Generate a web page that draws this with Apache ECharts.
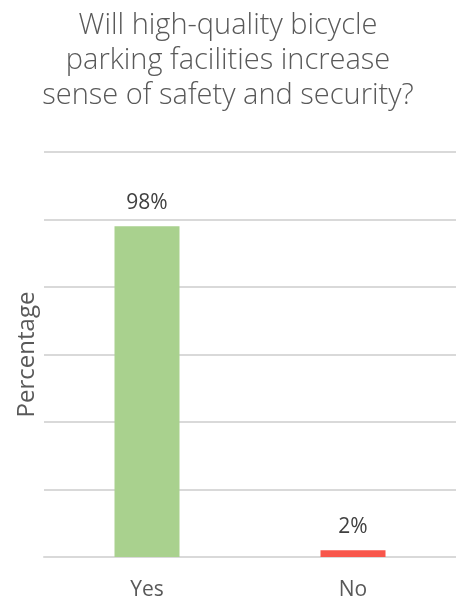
<!DOCTYPE html>
<html>
<head>
<meta charset="utf-8">
<script src="https://cdn.jsdelivr.net/npm/echarts@6/dist/echarts.min.js"></script>
<style>
  html, body { margin: 0; padding: 0; background: #fff; }
  #chart { width: 456px; height: 601px; }
</style>
</head>
<body>
<div id="chart"></div>
<script>
// Survey answers and their share of respondents (%)
const categories = ['Yes', 'No'];
const percentages = [98, 2];
const barColors = ['#A9D18E', '#F8564B'];

const chart = echarts.init(document.getElementById('chart'), null, { renderer: 'canvas' });

chart.setOption({
  animation: false,
  title: {
    text: 'Will high-quality bicycle\nparking facilities increase\nsense of safety and security?',
    left: 'center',
    top: 3,
    textStyle: {
      fontFamily: 'Open Sans',
      fontWeight: 300,
      fontSize: 29,
      lineHeight: 35,
      color: '#595959'
    }
  },
  grid: { left: 44, right: 0, top: 152, bottom: 43 },
  xAxis: {
    type: 'category',
    data: categories,
    axisLine: { show: true, lineStyle: { color: '#D9D9D9', width: 2 } },
    axisTick: { show: false },
    axisLabel: {
      margin: 23,
      fontFamily: 'Open Sans',
      fontSize: 21,
      color: '#595959'
    }
  },
  yAxis: {
    type: 'value',
    min: 0,
    max: 120,
    interval: 20,
    name: 'Percentage',
    nameLocation: 'middle',
    nameGap: 5,
    nameTextStyle: {
      fontFamily: 'Open Sans',
      fontSize: 24,
      color: '#595959'
    },
    axisLabel: { show: false },
    axisLine: { show: false },
    axisTick: { show: false },
    splitLine: { lineStyle: { color: '#D9D9D9', width: 2 } }
  },
  series: [{
    type: 'bar',
    barWidth: 65,
    data: percentages.map((v, i) => ({ value: v, itemStyle: { color: barColors[i] } })),
    label: {
      show: true,
      position: 'top',
      distance: 13,
      formatter: p => p.value + '%',
      fontFamily: 'Open Sans',
      fontSize: 21,
      color: '#404040'
    }
  }]
});
</script>
</body>
</html>
